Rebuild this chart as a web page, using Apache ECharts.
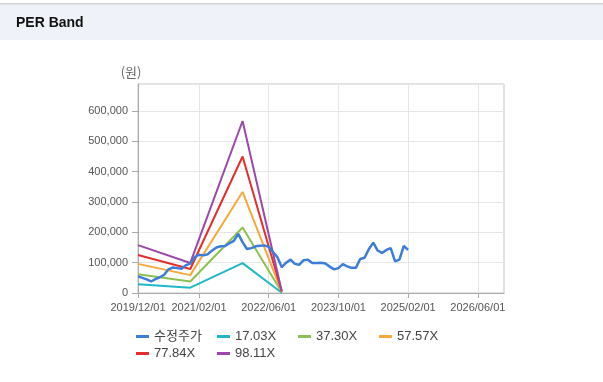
<!DOCTYPE html>
<html>
<head>
<meta charset="utf-8">
<script src="https://cdn.jsdelivr.net/npm/echarts@6/dist/echarts.min.js"></script>
<style>
html,body{margin:0;padding:0;background:#fff;}
#c{width:603px;height:382px;}
</style>
</head>
<body>
<div id="c"></div>
<script>
// Monthly categories 2019/12 .. 2026/12
var startYear = 2019, startMonth = 12, monthCount = 85;
var tickLabels = ['2019/12/01','2021/02/01','2022/06/01','2023/10/01','2025/02/01','2026/06/01'];
var seriesNames = ['수정주가','17.03X','37.30X','57.57X','77.84X','98.11X'];
var seriesColors = ['#3b7dd8','#1fb8c9','#8cc152','#f9a83b','#e62d2d','#9c48aa'];

// adjusted price, monthly from 2019/12
var price = [55000,50000,45000,38000,46000,52000,60000,78000,84000,82000,80000,92000,97000,118000,126000,124000,128000,140000,150000,154000,155000,164000,172000,195000,168000,145000,148000,154000,156000,157000,152000,135000,118000,85000,100000,110000,96000,93000,108000,110000,99000,99000,100000,97000,87000,78000,82000,95000,88000,83000,83000,112000,116000,145000,166000,140000,132000,142000,148000,104000,110000,155000,142000];

// PER band points: month index and values
var bandIdx = [0, 12, 24, 33];
var band1703 = [29000, 17500, 98600, 1000];
var band3730 = [62000, 38000, 216000, 2200];
var band5757 = [96000, 59000, 333000, 3500];
var band7784 = [125000, 79000, 450000, 4700];
var band9811 = [158000, 99000, 567000, 5900];

var categories = [];
for (var i = 0; i < monthCount; i++) {
  var m = startMonth - 1 + i;
  var y = startYear + Math.floor(m / 12);
  var mm = (m % 12) + 1;
  categories.push(y + '/' + (mm < 10 ? '0' + mm : mm) + '/01');
}
function bandSeries(vals) {
  var arr = [];
  for (var i = 0; i < monthCount; i++) arr.push(null);
  for (var k = 0; k < bandIdx.length; k++) arr[bandIdx[k]] = vals[k];
  return arr;
}
var isTick = function (idx, val) { return tickLabels.indexOf(val) >= 0; };
var FONT = "'Liberation Sans', Arial, 'Noto Sans CJK KR', sans-serif";

var bands = [band1703, band3730, band5757, band7784, band9811];
var series = [{
  name: seriesNames[0], type: 'line', data: price, showSymbol: false, symbol: 'none',
  lineStyle: { width: 2.5, color: seriesColors[0] }, itemStyle: { color: seriesColors[0] }, z: 3
}];
for (var b = 0; b < bands.length; b++) {
  series.push({
    name: seriesNames[b + 1], type: 'line', data: bandSeries(bands[b]), connectNulls: true,
    showSymbol: false, symbol: 'none',
    lineStyle: { width: 2, color: seriesColors[b + 1] }, itemStyle: { color: seriesColors[b + 1] }, z: 2
  });
}

var chart = echarts.init(document.getElementById('c'), null, { renderer: 'canvas' });
chart.setOption({
  animation: false,
  textStyle: { fontFamily: FONT },
  graphic: [
    { type: 'rect', shape: { x: 0, y: 4, width: 603, height: 36 }, style: { fill: '#eff3f9' }, z: 0 },
    { type: 'rect', shape: { x: 0, y: 3, width: 603, height: 1.5 }, style: { fill: '#d4d4d4' }, z: 0 },
    { type: 'text', x: 16, y: 23, style: { text: 'PER Band', font: "bold 14px 'Liberation Sans', Arial, sans-serif", fill: '#111', textVerticalAlign: 'middle' } },
    { type: 'text', x: 131, y: 72, style: { text: '(원)', font: "13px 'Noto Sans CJK KR', sans-serif", fill: '#666', textAlign: 'center', textVerticalAlign: 'middle' } }
  ],
  grid: { left: 138, right: 99, top: 84, bottom: 89, show: true, borderColor: '#c4c4c4', borderWidth: 1, containLabel: false },
  legend: {
    data: seriesNames, left: 136, top: 328, width: 330, padding: 0, itemGap: 0,
    icon: 'rect', itemWidth: 13, itemHeight: 3,
    textStyle: { fontSize: 13, color: '#444', width: 63, lineHeight: 17, fontFamily: FONT }
  },
  xAxis: {
    type: 'category', data: categories, boundaryGap: false,
    axisLine: { show: true, lineStyle: { color: '#aaa' } },
    axisTick: { show: true, interval: isTick, length: 5, lineStyle: { color: '#aaa' } },
    axisLabel: { interval: isTick, color: '#555', fontSize: 11, margin: 9, fontFamily: FONT },
    splitLine: { show: true, interval: isTick, lineStyle: { color: '#e6e6e6' } }
  },
  yAxis: {
    type: 'value', min: 0, max: 689000, interval: 100000,
    axisLine: { show: true, lineStyle: { color: '#aaa' } },
    axisTick: { show: true, length: 6, lineStyle: { color: '#aaa' } },
    axisLabel: {
      color: '#555', fontSize: 11, margin: 10, showMaxLabel: false, fontFamily: FONT,
      formatter: function (v) { return v.toString().replace(/\B(?=(\d{3})+(?!\d))/g, ','); }
    },
    splitLine: { show: true, lineStyle: { color: '#e6e6e6' } }
  },
  series: series
});
</script>
</body>
</html>
